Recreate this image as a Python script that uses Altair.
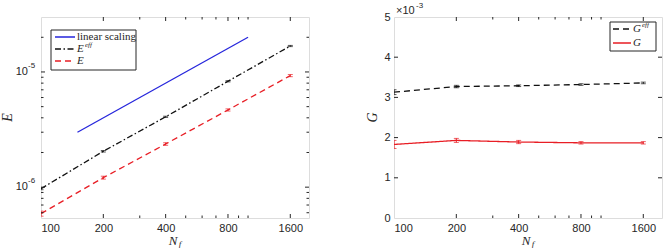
import altair as alt
import pandas as pd

# ---- data -------------------------------------------------------------
N = [100, 200, 400, 800, 1600]

E_EFF = [0.97e-6, 2.05e-6, 4.08e-6, 8.3e-6, 1.68e-5]
E_EFF_ERR = [0.02e-6, 0.03e-6, 0.05e-6, 0.1e-6, 0.2e-6]
E_VAL = [0.59e-6, 1.21e-6, 2.37e-6, 4.68e-6, 9.3e-6]
E_ERR = [0.03e-6, 0.035e-6, 0.06e-6, 0.1e-6, 0.2e-6]

LIN_N = [150, 1000]
LIN_E = [3.0e-6, 2.0e-5]

G_EFF = [3.13e-3, 3.27e-3, 3.29e-3, 3.32e-3, 3.36e-3]
G_EFF_ERR = [0.06e-3, 0.03e-3, 0.02e-3, 0.02e-3, 0.02e-3]
G_VAL = [1.83e-3, 1.93e-3, 1.89e-3, 1.87e-3, 1.87e-3]
G_ERR = [0.10e-3, 0.05e-3, 0.04e-3, 0.03e-3, 0.03e-3]

X_MAJOR = [100, 200, 400, 800, 1600]
X_MINOR = [300, 500, 600, 700, 900, 1000]
Y_LOG_MAJOR = [1e-6, 1e-5]
Y_LOG_MINOR = [6e-7, 7e-7, 8e-7, 9e-7, 2e-6, 3e-6, 4e-6, 5e-6, 6e-6, 7e-6,
               8e-6, 9e-6, 2e-5]
G_TICKS = [0, 1e-3, 2e-3, 3e-3, 4e-3, 5e-3]

# ---- styling ----------------------------------------------------------
W, H = 268, 201
AX = "#262626"
RED = "#e81e25"
BLUE = "#2626dc"
BLACK = "#111111"
SANS = "Liberation Sans"
SERIF = "Liberation Serif"

xs = alt.Scale(type="log", domain=[100, 1970], nice=False)
ys_log = alt.Scale(type="log", domain=[5.4e-7, 3.0e-5], nice=False)
ys_g = alt.Scale(domain=[0, 5e-3], nice=False)

one = pd.DataFrame({"k": [0]})

X_AXIS = alt.Axis(values=X_MAJOR, format="d", ticks=False, domain=False,
                  grid=False, title=None, labelFont=SANS, labelFontSize=11,
                  labelColor=AX, labelPadding=4)
G_AXIS = alt.Axis(values=G_TICKS, labelExpr="format(datum.value*1000, 'd')",
                  ticks=False, domain=False, grid=False, title=None,
                  labelFont=SANS, labelFontSize=11, labelColor=AX,
                  labelPadding=4)


def xenc(field):
    return alt.X(field, scale=xs, axis=X_AXIS)


def yenc(field, ys):
    if ys is ys_g:
        return alt.Y(field, scale=ys, axis=G_AXIS)
    return alt.Y(field, scale=ys, axis=None)


def series_frame(x, y, err):
    return pd.DataFrame({"n": x, "v": y,
                         "lo": [a - b for a, b in zip(y, err)],
                         "hi": [a + b for a, b in zip(y, err)]})


def line_with_err(df, ys, color, dash, width=1.3):
    base = alt.Chart(df)
    line = base.mark_line(color=color, strokeWidth=width, strokeDash=dash,
                          clip=True).encode(x=xenc("n:Q"), y=yenc("v:Q", ys))
    bar = base.mark_rule(color=color, strokeWidth=1, clip=True).encode(
        x=xenc("n:Q"), y=yenc("lo:Q", ys), y2="hi:Q")
    caps = []
    for f in ("lo:Q", "hi:Q"):
        caps.append(base.mark_tick(color=color, orient="horizontal", size=5,
                                   thickness=1, clip=True).encode(
            x=xenc("n:Q"), y=yenc(f, ys)))
    return [line, bar] + caps


def x_ticks():
    out = []
    for vals, ln in ((X_MAJOR[1:], 4), (X_MINOR, 2.5)):
        d = pd.DataFrame({"n": vals})
        out.append(alt.Chart(d).mark_rule(color=AX, strokeWidth=1).encode(
            x=xenc("n:Q"), y=alt.value(H), y2=alt.value(H - ln)))
        out.append(alt.Chart(d).mark_rule(color=AX, strokeWidth=1).encode(
            x=xenc("n:Q"), y=alt.value(0), y2=alt.value(ln)))
    return out


def y_ticks(groups, ys):
    out = []
    for vals, ln in groups:
        d = pd.DataFrame({"v": vals})
        out.append(alt.Chart(d).mark_rule(color=AX, strokeWidth=1).encode(
            y=yenc("v:Q", ys), x=alt.value(0), x2=alt.value(ln)))
        out.append(alt.Chart(d).mark_rule(color=AX, strokeWidth=1).encode(
            y=yenc("v:Q", ys), x=alt.value(W), x2=alt.value(W - ln)))
    return out


def text(t, x, y, size=14, style="italic", font=SERIF, angle=0,
         align="center", baseline="middle", color=AX):
    kw = dict(font=font, fontSize=size, fontStyle=style, align=align,
              baseline=baseline, color=color)
    if angle:
        kw["angle"] = angle
    return alt.Chart(one).mark_text(**kw).encode(
        x=alt.value(x), y=alt.value(y), text=alt.value(t))


def box(x1, x2, y1, y2):
    return alt.Chart(one).mark_rect(fill="white", stroke=AX,
                                    strokeWidth=1).encode(
        x=alt.value(x1), x2=alt.value(x2), y=alt.value(y1), y2=alt.value(y2))


def seg(x1, x2, y, color, dash):
    return alt.Chart(one).mark_rule(color=color, strokeWidth=1.3,
                                    strokeDash=dash).encode(
        x=alt.value(x1), x2=alt.value(x2), y=alt.value(y))


def nf_title():
    return [text("N", W / 2 - 2, H + 27, size=13, baseline="alphabetic"),
            text("f", W / 2 + 5, H + 29, size=9, baseline="alphabetic")]


# ---- left panel: E versus N_f (log-log) --------------------------------
lin_df = pd.DataFrame({"n": LIN_N, "v": LIN_E})
lin = alt.Chart(lin_df).mark_line(color=BLUE, strokeWidth=1.3).encode(
    x=xenc("n:Q"), y=yenc("v:Q", ys_log))

ylab_df = pd.DataFrame({"v": Y_LOG_MAJOR,
                        "e": ["-6" if v < 5e-6 else "-5" for v in Y_LOG_MAJOR]})
ylab_base = alt.Chart(ylab_df).mark_text(
    font=SANS, fontSize=11, color=AX, align="right", baseline="middle").encode(
    y=yenc("v:Q", ys_log), x=alt.value(-13), text=alt.value("10"))
ylab_exp = alt.Chart(ylab_df).mark_text(
    font=SANS, fontSize=8, color=AX, align="left", baseline="middle",
    dy=-6).encode(y=yenc("v:Q", ys_log), x=alt.value(-13), text="e:N")

left_layers = [lin]
left_layers += line_with_err(series_frame(N, E_EFF, E_EFF_ERR), ys_log, BLACK,
                             [6, 2.5, 1.5, 2.5])
left_layers += line_with_err(series_frame(N, E_VAL, E_ERR), ys_log, RED, [6, 4])
left_layers += x_ticks()
left_layers += y_ticks([(Y_LOG_MAJOR, 4), (Y_LOG_MINOR, 2.5)], ys_log)
left_layers += [ylab_base, ylab_exp]
left_layers += [text("E", -33, H / 2, angle=270)]
left_layers += nf_title()
left_layers += [
    box(10, 95, 13, 53),
    seg(14, 34, 20, BLUE, [1, 0]),
    text("linear scaling", 36, 20, size=11, style="normal", align="left"),
    seg(14, 34, 32, BLACK, [6, 2.5, 1.5, 2.5]),
    text("E", 36, 32, size=11, align="left"),
    text("eff", 44, 28, size=7, align="left"),
    seg(14, 34, 44, RED, [6, 4]),
    text("E", 36, 44, size=11, align="left"),
]
left = alt.layer(*left_layers).properties(width=W, height=H)

# ---- right panel: G versus N_f ------------------------------------------
right_layers = []
right_layers += line_with_err(series_frame(N, G_EFF, G_EFF_ERR), ys_g, BLACK, [6, 4])
right_layers += line_with_err(series_frame(N, G_VAL, G_ERR), ys_g, RED, [1, 0])
right_layers += x_ticks()
right_layers += y_ticks([(G_TICKS[1:-1], 4)], ys_g)
right_layers += [text("G", -21, H / 2, angle=270)]
right_layers += nf_title()
right_layers += [
    text("×10", 2, -6, size=11, style="normal", font=SANS, align="left"),
    text("-3", 22, -11, size=8, style="normal", font=SANS, align="left"),
    box(216, 262, 5, 34),
    seg(219, 237, 12, BLACK, [6, 4]),
    text("G", 239, 12, size=11, align="left"),
    text("eff", 248, 8, size=7, align="left"),
    seg(219, 237, 26, RED, [1, 0]),
    text("G", 239, 26, size=11, align="left"),
]
right = alt.layer(*right_layers).properties(width=W, height=H)

chart = alt.hconcat(left, right, spacing=55).properties(
    padding={"left": 0, "top": 1, "right": 0, "bottom": 0}
).configure_view(stroke=AX, strokeWidth=1).configure(background="white")

chart.save("out.html", embed_options={"renderer": "svg", "actions": False})
